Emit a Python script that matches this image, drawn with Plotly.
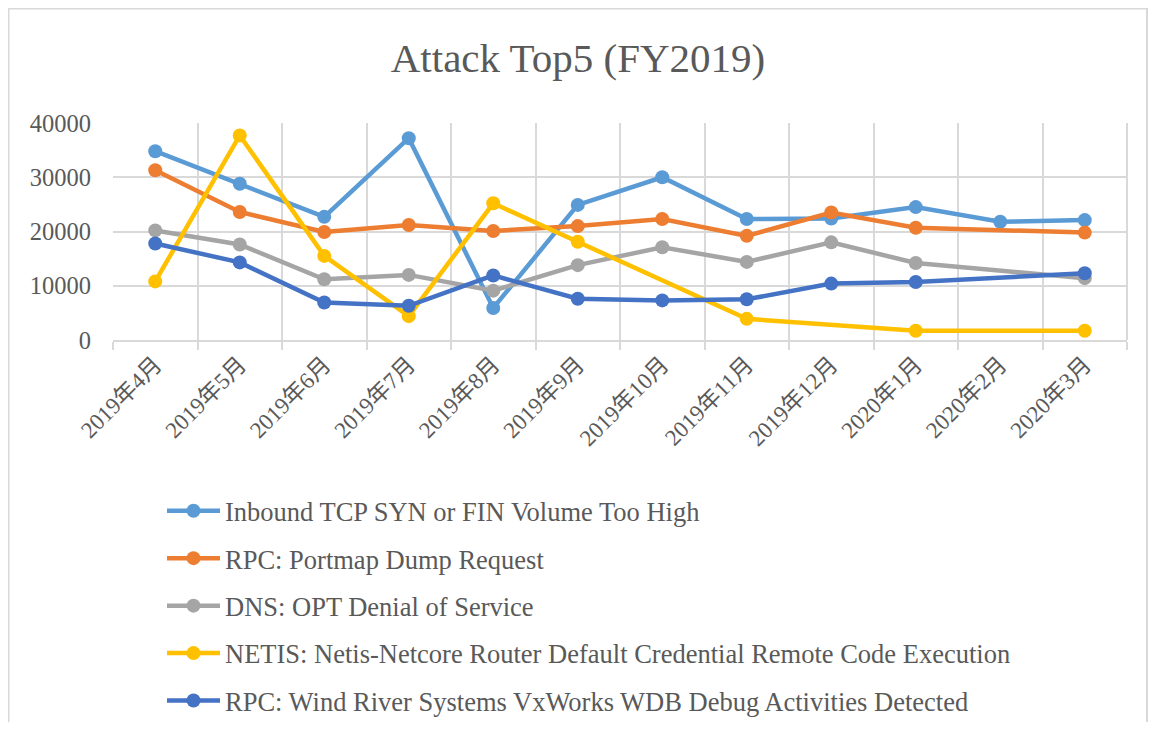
import plotly.graph_objects as go

months = ["2019年4月", "2019年5月", "2019年6月", "2019年7月", "2019年8月", "2019年9月",
          "2019年10月", "2019年11月", "2019年12月", "2020年1月", "2020年2月", "2020年3月"]

inbound_tcp = [34800, 28800, 22700, 37200, 5900, 24900, 30000, 22300, 22400, 24500, 21800, 22100]
rpc_portmap = [31300, 23600, 19900, 21200, 20100, 21000, 22300, 19200, 23500, 20700, None, 19800]
dns_opt = [20200, 17600, 11200, 12000, 9100, 13800, 17100, 14400, 18000, 14200, None, 11400]
netis = [10800, 37700, 15500, 4400, 25200, 18100, None, 3900, None, 1700, None, 1700]
rpc_wdb = [17800, 14300, 6900, 6300, 11900, 7600, 7300, 7500, 10400, 10700, None, 12300]

series = [
    ("Inbound TCP SYN or FIN Volume Too High", inbound_tcp, "#5B9BD5"),
    ("RPC: Portmap Dump Request", rpc_portmap, "#ED7D31"),
    ("DNS: OPT Denial of Service", dns_opt, "#A5A5A5"),
    ("NETIS: Netis-Netcore Router Default Credential Remote Code Execution", netis, "#FFC000"),
    ("RPC: Wind River Systems VxWorks WDB Debug Activities Detected", rpc_wdb, "#4472C4"),
]

FONT = "Liberation Serif, Noto Sans CJK JP, serif"

fig = go.Figure()
for i, (name, vals, color) in enumerate(series):
    fig.add_trace(go.Scatter(
        x=months, y=vals, name=name, mode="lines+markers",
        connectgaps=True, legendgroup=f"g{i}",
        line=dict(color=color, width=4.5),
        marker=dict(color=color, size=14),
    ))

OFF = 8  # page body margin
W, H = 1140, 714
L, T = 113 - OFF, 123 - OFF
R = W - (1127 - OFF)
B = H - (340 - OFF)
pw = W - L - R
ph = H - T - B

def px_x(x):
    return (x - OFF - L) / pw

def px_y(y):
    return (H - B - (y - OFF)) / ph

fig.update_layout(
    width=W, height=H,
    margin=dict(l=L, r=R, t=T, b=B, autoexpand=False),
    paper_bgcolor="white", plot_bgcolor="white",
    font=dict(family=FONT, color="#595959"),
    title=dict(text="Attack Top5 (FY2019)", x=0.5, xanchor="center",
               y=1 - (58 - OFF) / H, yanchor="middle",
               font=dict(family=FONT, size=41, color="#595959")),
    xaxis=dict(
        type="category", tickson="boundaries", showgrid=True,
        gridcolor="#D9D9D9", gridwidth=2,
        ticks="outside", ticklen=8, tickcolor="#D9D9D9", tickwidth=2,
        showline=True, linecolor="#D9D9D9", linewidth=2, mirror=False,
        tickangle=-45, tickfont=dict(size=23, color="#595959"),
        range=[-0.5, 11.5],
    ),
    yaxis=dict(
        range=[0, 40000], dtick=10000, tickformat="d", showgrid=True,
        gridcolor="#D9D9D9", gridwidth=2, zeroline=False,
        tickfont=dict(size=24.5, color="#595959"), ticks="", ticklabelstandoff=21,
        showline=False,
    ),
    showlegend=True,
    legend=dict(
        x=px_x(162), y=px_y(487), xanchor="left", yanchor="top",
        orientation="v", font=dict(size=26.5, color="#595959", family=FONT),
        tracegroupgap=10, itemwidth=53, bgcolor="rgba(0,0,0,0)",
    ),
    shapes=[
        dict(type="line", xref="paper", yref="paper",
             x0=1, x1=1, y0=0, y1=1,
             line=dict(color="#D9D9D9", width=2), layer="below"),
        dict(type="rect", xref="paper", yref="paper",
             x0=px_x(8.5), x1=px_x(1147), y0=px_y(8.5), y1=px_y(760),
             line=dict(color="#D9D9D9", width=2), fillcolor="rgba(0,0,0,0)"),
    ],
)

fig.write_html("out.html")
